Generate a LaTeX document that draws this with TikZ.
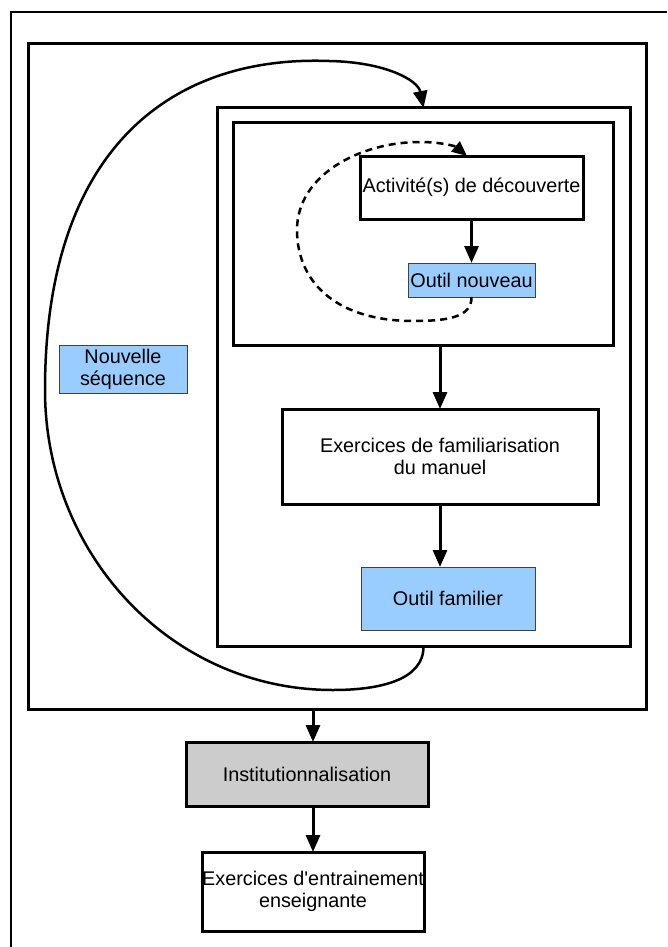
\documentclass[tikz,border=0pt]{standalone}
\usepackage{fontspec}
\setmainfont{Liberation Sans}
\usetikzlibrary{arrows.meta}
\definecolor{lblue}{HTML}{99CCFF}
\definecolor{lgray}{HTML}{CCCCCC}
\begin{document}
\begin{tikzpicture}[x=1pt,y=-1pt,
  txt/.style={font=\fontsize{19.8}{22}\selectfont,align=center,text=black},
  cont/.style={draw=black,line width=3pt,inner sep=0pt,outer sep=0pt},
  box/.style={cont,txt},
  bluebox/.style={draw=black!75,line width=1pt,fill=lblue,inner sep=0pt,outer sep=0pt,txt},
  flow/.style={line width=3pt,-{Triangle[length=17pt,width=14pt]}},
  loopline/.style={line width=2.5pt,-{Triangle[length=17pt,width=14pt]}},
  dashloop/.style={line width=2.5pt,dash pattern=on 7pt off 5pt,-{Triangle[length=15pt,width=13pt]}}
]
\useasboundingbox (0,0) rectangle (667,947);
% outer thin frame (right and bottom edges are off the picture)
\draw[line width=2pt] (11,947) -- (11,12) -- (667,12);

% containers
\node[cont,minimum width=618pt,minimum height=665pt] (big) at (337,376.5) {};
\node[cont,minimum width=413pt,minimum height=538pt] (mid) at (423.5,377) {};
\node[cont,minimum width=380pt,minimum height=222pt] (inner) at (423,234) {};

% nodes
\node[box,minimum width=223pt,minimum height=63pt] (act) at (471.5,187.5) {Activité(s) de découverte};
\node[bluebox,minimum width=127pt,minimum height=34pt] (onv) at (471.5,280) {Outil nouveau};
\node[bluebox,minimum width=128pt,minimum height=48pt] (nseq) at (123,369) {Nouvelle\\séquence};
\node[box,minimum width=316pt,minimum height=95pt] (exfam) at (440,456.5) {Exercices de familiarisation\\du manuel};
\node[bluebox,minimum width=174pt,minimum height=63pt] (ofam) at (448,598.5) {Outil familier};
\node[box,fill=lgray,minimum width=242pt,minimum height=64pt] (inst) at (307,774) {Institutionnalisation};
\node[box,minimum width=222pt,minimum height=79pt] (exent) at (313,891.5) {\makebox[0pt]{Exercices d\textquotesingle entrainement}\\enseignante};

% straight connectors
\draw[flow] (act.south) -- (onv.north);
\draw[flow] (inner.south -| exfam.north) -- (exfam.north);
\draw[flow] (exfam.south) -- (exfam.south |- ofam.north);
\draw[flow] ([xshift=6pt]inst.north |- big.south) -- ([xshift=6pt]inst.north);
\draw[flow] ([xshift=6pt]inst.south) -- ([xshift=6pt]inst.south |- exent.north);

% dashed loop: Outil nouveau back to Activité(s)
\coordinate (dend) at ([xshift=-4.5pt]act.north);
\draw[dashloop] (onv.south) .. controls (472,318) and (445,321) .. (413,321)
  .. controls (340,321) and (297,285) .. (297,230)
  .. controls (297,175) and (360,142) .. (420,142)
  .. controls (440,142) and (455,146) .. (dend);

% big loop: from the middle container back to its top
\draw[loopline] (mid.south) .. controls (424,680) and (380,690) .. (333,690)
  .. controls (170,690) and (45,553) .. (45,390)
  .. controls (45,150) and (170,55) .. (329,61)
  .. controls (385,62) and (418,80) .. (mid.north);
\end{tikzpicture}
\end{document}
